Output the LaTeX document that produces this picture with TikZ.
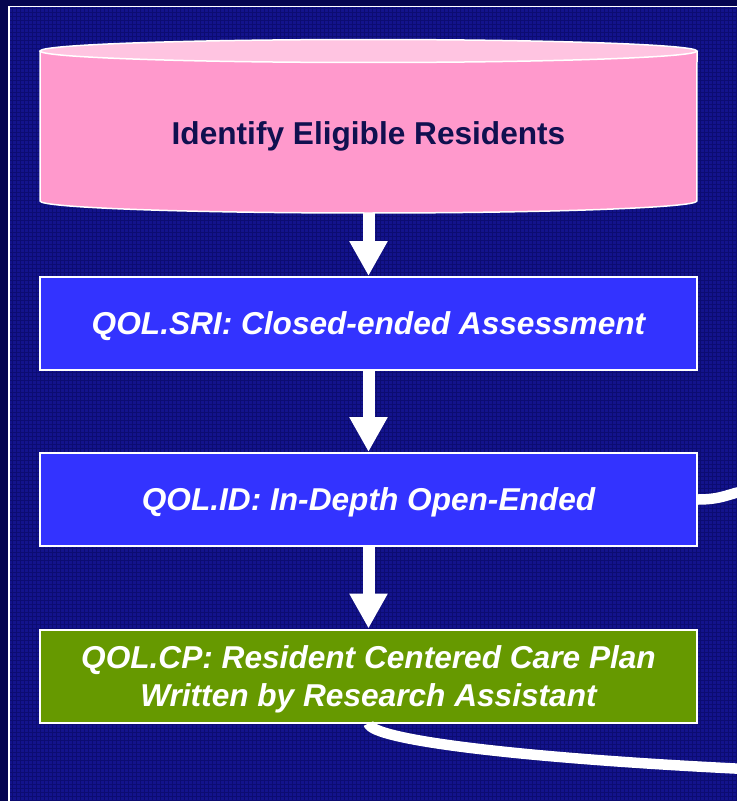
\documentclass[tikz,border=0pt]{standalone}
\usepackage{fontspec}
\setmainfont{Liberation Sans}
\usetikzlibrary{arrows.meta}

\definecolor{outerbg}{HTML}{050550}
\definecolor{slidebg}{HTML}{13138C}
\definecolor{gridcol}{HTML}{0C0C72}
\definecolor{pinkbody}{HTML}{FF99CC}
\definecolor{pinktop}{HTML}{FFC4E1}
\definecolor{inkblue}{HTML}{10104F}
\definecolor{qolblue}{HTML}{3333FF}
\definecolor{qolgreen}{HTML}{669900}

\tikzset{
  stepbox/.style={draw=white, line width=0.04cm, minimum width=13.14cm, minimum height=1.86cm,
    text=white, align=center, text depth=0pt, font=\bfseries\itshape\fontsize{18}{21.6}\selectfont},
  flowarrow/.style={draw=white, line width=0.24cm, -{Triangle[width=0.72cm,length=0.70cm]}},
  loopline/.style={draw=white, line width=0.21cm}
}

\begin{document}
\begin{tikzpicture}[x=0.02cm, y=-0.02cm]
  \clip (0,0) rectangle (737,801);
  % slide background
  \fill[outerbg] (0,0) rectangle (737,801);
  \fill[slidebg] (9,6.5) rectangle (737,801);
  \draw[gridcol, line width=0.3pt] (9,6.5) grid[step=0.08cm] (737,801);
  \draw[white, line width=0.04cm] (9,801) -- (9,6.5) -- (737,6.5);

  % cylinder
  \fill[pinkbody] (40,51) -- (40,201) arc[start angle=180, end angle=360, x radius=6.57cm, y radius=0.24cm] -- (697,51) -- cycle;
  \draw[white, line width=0.03cm] (40,51) -- (40,201) arc[start angle=180, end angle=360, x radius=6.57cm, y radius=0.24cm] -- (697,51);
  \filldraw[fill=pinktop, draw=white, line width=0.03cm] (368.5,51) ellipse[x radius=6.57cm, y radius=0.23cm];
  \node[font=\bfseries\fontsize{18}{21.6}\selectfont, text=inkblue] (elig) at (368.5,136) {Identify Eligible Residents};
  \coordinate (eligbot) at (368.5,213);

  % steps
  \node[stepbox, fill=qolblue] (sri) at (368.5,323.5) {QOL.SRI: Closed-ended Assessment};
  \node[stepbox, fill=qolblue] (indepth) at (368.5,499.5) {QOL.ID: In-Depth Open-Ended};
  \node[stepbox, fill=qolgreen] (careplan) at (368.5,676) {QOL.CP: Resident Centered Care Plan\\Written by Research Assistant};

  \draw[flowarrow] (eligbot) -- (sri);
  \draw[flowarrow] (sri) -- (indepth);
  \draw[flowarrow] (indepth) -- (careplan);

  % lines leaving the picture
  \coordinate (idout) at (745,491);
  \coordinate (cpout) at (745,769);
  \draw[loopline] (indepth.east) .. controls +(25,0) and +(-15,2) .. (idout);
  \draw[loopline] (careplan.south) .. controls (372,740) and (520,758) .. (cpout);
\end{tikzpicture}
\end{document}
